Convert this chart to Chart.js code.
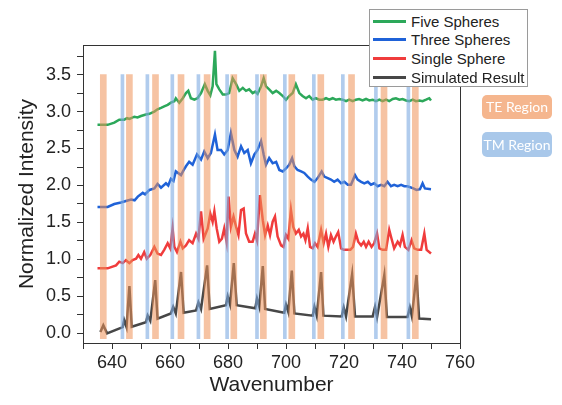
<!DOCTYPE html>
<html>
<head>
<meta charset="utf-8">
<script src="https://cdn.jsdelivr.net/npm/chart.js@4/dist/chart.umd.min.js"></script>
<style>
  body { margin: 0; background: #fff; }
  #wrap { position: relative; width: 562px; height: 405px; font-family: "Liberation Sans", Arial, sans-serif; }
  #legend { position: absolute; left: 369px; top: 9px; width: 157px; height: 76px; border: 1px solid #9a9a9a; background: #fff; }
  .row { position: absolute; left: 0; height: 19px; width: 157px; font-size: 15px; color: #222; line-height: 19px; }
  .row span.ln { position: absolute; left: 3px; top: 8px; width: 33px; height: 3px; }
  .row span.tx { position: absolute; left: 41px; top: 0; white-space: nowrap; }
  .region { position: absolute; left: 482px; width: 70px; border-radius: 5px; color: #fff; font-family: Lato, "Open Sans", sans-serif; font-size: 14px; text-align: center; }
</style>
</head>
<body>
<div id="wrap">
  <canvas id="spectraChart" width="562" height="405"></canvas>
  <div id="legend"></div>
  <div class="region" style="top:95px;height:24px;line-height:24px;background:#f5b68e;">TE Region</div>
  <div class="region" style="top:132px;height:25px;line-height:25px;background:#a9c8ea;">TM Region</div>
</div>
<script>
// measured spectra, [wavenumber, normalized intensity]
var fiveSpheres = [[635,2.82],[638.5,2.82],[640.8,2.85],[642.5,2.89],[644.2,2.89],[645.2,2.91],[646,2.9],[647.7,2.93],[648.8,2.92],[650,2.94],[651.7,2.96],[652.9,2.97],[654.6,3.0],[655.7,3.03],[656.9,3.05],[658,3.07],[659.2,3.09],[660.3,3.12],[661.5,3.14],[662,3.18],[663.2,3.12],[664.4,3.18],[665.5,3.25],[666.3,3.28],[667.2,3.18],[668.4,3.16],[669.5,3.18],[670.7,3.25],[672,3.37],[673,3.28],[673.9,3.22],[674.7,3.34],[675.5,3.82],[676,3.37],[677,3.3],[678.2,3.23],[679.3,3.23],[680.4,3.25],[681.6,3.45],[682.8,3.37],[683.9,3.28],[685.1,3.32],[686.2,3.28],[687.3,3.3],[688.5,3.25],[689.4,3.27],[690.2,3.24],[691.4,3.34],[692.3,3.45],[693.1,3.34],[694.2,3.3],[695.4,3.25],[696.6,3.28],[697.7,3.25],[698.9,3.21],[700,3.16],[701.1,3.21],[702.3,3.25],[703.4,3.37],[704.6,3.25],[705.7,3.21],[706.9,3.18],[708,3.21],[709.2,3.16],[710.3,3.18],[711.5,3.16],[712.6,3.16],[713.8,3.18],[714.9,3.16],[716.1,3.18],[717.2,3.16],[718.4,3.17],[719.5,3.16],[720.7,3.14],[721.8,3.16],[723,3.14],[724.1,3.16],[725.2,3.17],[726.4,3.15],[727.6,3.17],[728.7,3.15],[729.9,3.16],[731,3.14],[732.2,3.16],[733.3,3.14],[734.5,3.16],[735.6,3.14],[736.8,3.17],[737.9,3.18],[739.1,3.16],[740.2,3.17],[741.4,3.15],[742.5,3.14],[743.7,3.16],[744.8,3.14],[746,3.15],[747.1,3.14],[748.3,3.16],[749.4,3.18],[750,3.15]];

var threeSpheres = [[635,1.71],[638.5,1.71],[640.8,1.75],[643.1,1.77],[644.8,1.79],[646.6,1.81],[647.8,1.8],[648.9,1.85],[650.6,1.9],[651.4,1.88],[652.9,1.94],[654.6,1.96],[655.7,2.02],[656.9,1.97],[658.6,2.03],[659.4,2.0],[660.3,2.09],[661.2,2.06],[662,2.19],[663.8,2.14],[664.6,2.2],[665.5,2.26],[666.6,2.32],[667.8,2.28],[669.3,2.42],[670.7,2.35],[671.8,2.46],[673,2.37],[674.1,2.44],[675.5,2.69],[676.4,2.48],[677.6,2.48],[678.7,2.42],[679.9,2.48],[681,2.71],[682.2,2.48],[683.3,2.39],[684.5,2.53],[685.6,2.44],[686.8,2.48],[687.9,2.3],[689.1,2.42],[690.2,2.48],[691.4,2.6],[692.3,2.42],[693.1,2.28],[694.2,2.37],[695.4,2.3],[696.6,2.32],[697.7,2.21],[698.9,2.19],[700,2.23],[701.1,2.28],[702.1,2.37],[702.9,2.26],[704,2.21],[705.2,2.19],[706.3,2.17],[707.5,2.12],[708.6,2.08],[709.8,2.05],[710.9,2.1],[712.3,2.19],[713.2,2.12],[714.4,2.1],[715.5,2.08],[716.6,2.05],[717.8,2.08],[719,2.03],[720.1,2.05],[721.3,2.01],[722.4,2.01],[723.8,2.14],[724.7,2.08],[725.9,2.05],[727,2.03],[728.2,2.05],[729.3,2.01],[730.4,2.03],[731.6,1.99],[732.8,2.01],[733.9,1.99],[735,2.05],[736.2,1.99],[737.3,2.01],[738.5,1.99],[739.7,2.01],[740.8,1.99],[741.9,1.99],[743.9,1.96],[745,1.94],[746.2,1.95],[747.1,2.03],[747.9,1.96],[750,1.95]];

var singleSphere = [[635,0.88],[638.5,0.88],[641.4,0.92],[642.5,0.97],[643.7,0.95],[644.8,0.99],[646,0.95],[647.1,0.99],[648.3,1.01],[649.1,1.06],[650,1.01],[651.1,1.1],[652,1.01],[653.2,1.06],[654.6,1.17],[655.7,1.08],[656.9,1.06],[658,1.13],[659.2,1.22],[660.1,1.15],[660.9,1.42],[661.5,1.17],[662.4,1.1],[663.6,1.24],[664.4,1.15],[665.5,1.19],[666.6,1.26],[667.8,1.22],[669,1.35],[669.8,1.28],[670.7,1.65],[671.6,1.28],[673,1.42],[673.9,1.62],[674.7,1.51],[675.3,1.65],[676.1,1.42],[677,1.24],[677.9,1.28],[678.7,1.42],[679.5,1.24],[680.2,1.85],[681,1.44],[681.9,1.58],[682.8,1.44],[683.6,1.33],[684.5,1.67],[685.4,1.69],[686.2,1.35],[687.3,1.24],[688.5,1.24],[689.3,1.35],[690,1.26],[691,1.87],[692,1.53],[692.8,1.33],[693.7,1.46],[694.5,1.33],[695.4,1.51],[696.2,1.58],[697.1,1.31],[698.3,1.19],[699.1,1.17],[700,1.33],[700.8,1.28],[701.7,1.67],[702.5,1.44],[703.4,1.35],[704.4,1.4],[705.2,1.31],[706,1.35],[706.7,1.26],[707.5,1.42],[708.3,1.17],[709.2,1.15],[710,1.22],[710.9,1.17],[712.1,1.4],[713,1.22],[713.8,1.35],[714.6,1.17],[715.5,1.33],[716.4,1.24],[717.2,1.31],[718,1.37],[719,1.15],[719.9,1.13],[721.3,1.13],[722.2,1.13],[723.1,1.17],[724.1,1.35],[724.9,1.24],[725.9,1.19],[726.8,1.24],[727.6,1.17],[728.5,1.24],[729.5,1.17],[730.4,1.22],[731.4,1.35],[732.2,1.15],[733.3,1.13],[734.5,1.13],[735.6,1.4],[736.4,1.28],[737.3,1.15],[738.5,1.24],[739.3,1.19],[740.2,1.33],[741,1.17],[742.2,1.13],[743.3,1.26],[744.2,1.15],[745.4,1.13],[746.6,1.13],[747.7,1.35],[748.5,1.13],[750,1.08]];

var simulated = [[636,0.02],[637,0.11],[638.3,0.0],[643.7,0.085],[644.2,0.18],[645,0.085],[646,0.64],[646.8,0.09],[651.7,0.15],[652.3,0.24],[653.2,0.17],[654.9,0.72],[655.7,0.2],[660.3,0.27],[661.1,0.36],[662,0.27],[663.8,0.83],[664.7,0.28],[669,0.31],[669.8,0.42],[670.7,0.33],[672.8,0.92],[673.7,0.33],[679.3,0.38],[679.9,0.5],[680.7,0.39],[682,0.95],[683,0.38],[689.4,0.34],[690,0.47],[690.8,0.36],[692,0.91],[692.8,0.33],[699.4,0.28],[700,0.39],[700.8,0.29],[702,0.85],[702.9,0.27],[709.2,0.24],[709.8,0.36],[710.6,0.24],[712.1,0.83],[712.9,0.24],[719.2,0.23],[719.9,0.35],[720.7,0.23],[722.8,0.8],[723.8,0.23],[729.9,0.23],[730.7,0.36],[731.4,0.22],[733.9,0.79],[734.8,0.22],[741.9,0.22],[742.7,0.35],[743.4,0.23],[745,0.79],[745.9,0.2],[750,0.19]];

// mode positions (wavenumber)
var teModes = [637, 646, 655, 663.8, 672.8, 682, 692.2, 702, 712, 722.6, 733.8, 744.6];
var tmModes = [643.6, 652.2, 660.8, 669.8, 679.7, 690, 699.6, 709.6, 719.6, 731, 742.2];
var bandRange = [-0.07, 3.5];

var seriesNames = ["Five Spheres", "Three Spheres", "Single Sphere", "Simulated Result"];
var seriesData = [fiveSpheres, threeSpheres, singleSphere, simulated];
var seriesColors = ["#2ca85a", "#1f62d8", "#f03c3c", "#474747"];

var xTicks = [640, 660, 680, 700, 720, 740, 760];

function toPoints(arr) {
  return arr.map(function (p) { return { x: p[0], y: p[1] }; });
}
function toBands(arr) {
  return arr.map(function (w) { return { x: w, y: bandRange.slice() }; });
}

var datasets = [];
datasets.push({
  type: 'bar', label: 'TE', data: toBands(teModes), order: 0,
  backgroundColor: 'rgba(238,145,88,0.55)', barThickness: 6, grouped: false
});
datasets.push({
  type: 'bar', label: 'TM', data: toBands(tmModes), order: 0,
  backgroundColor: 'rgba(125,170,225,0.6)', barThickness: 3, grouped: false
});
seriesNames.forEach(function (name, i) {
  datasets.push({
    type: 'line', label: name, data: toPoints(seriesData[i]), order: 1,
    borderColor: seriesColors[i], borderWidth: 2.5, pointRadius: 0, tension: 0, fill: false
  });
});

// html legend
var legend = document.getElementById('legend');
seriesNames.forEach(function (name, i) {
  var row = document.createElement('div');
  row.className = 'row';
  row.style.top = (1.5 + i * 18.7) + 'px';
  row.innerHTML = '<span class="ln" style="background:' + seriesColors[i] + '"></span><span class="tx">' + name + '</span>';
  legend.appendChild(row);
});

var axisColor = '#333';
var tickFont = { family: '"Liberation Sans", Arial, sans-serif', size: 18 };
var titleFont = { family: '"Liberation Sans", Arial, sans-serif', size: 21 };

var ctx = document.getElementById('spectraChart');
new Chart(ctx, {
  type: 'line',
  data: { datasets: datasets },
  options: {
    responsive: false,
    animation: false,
    layout: { padding: { left: 0, top: 45, right: 102, bottom: 0 } },
    plugins: { legend: { display: false }, tooltip: { enabled: false } },
    scales: {
      x: {
        type: 'linear', position: 'bottom', min: 630, max: 760, offset: false,
        afterFit: function (s) { s.height = 62; },
        border: { color: axisColor, width: 1 },
        grid: { drawOnChartArea: false, tickLength: 6, color: axisColor, offset: false },
        ticks: {
          stepSize: 10, autoSkip: false, maxRotation: 0, padding: 3, color: '#222', font: tickFont,
          callback: function (v) { return xTicks.indexOf(v) >= 0 ? String(v) : ''; }
        },
        title: { display: true, text: 'Wavenumber', color: '#222', font: titleFont, padding: { top: 0, bottom: 7 } }
      },
      y: {
        type: 'linear', position: 'left', min: -0.13, max: 3.9,
        afterFit: function (s) { s.width = 83; },
        border: { color: axisColor, width: 1 },
        grid: { drawOnChartArea: false, tickLength: 6, color: axisColor },
        ticks: {
          stepSize: 0.25, includeBounds: false, autoSkip: false, padding: 6, color: '#222', font: tickFont,
          callback: function (v) { return Math.abs(v * 2 - Math.round(v * 2)) < 1e-6 ? v.toFixed(1) : ''; }
        },
        title: { display: true, text: 'Normalized Intensity', color: '#222', font: titleFont, padding: { top: 15, bottom: 0 } }
      },
      xTop: {
        type: 'linear', position: 'top', min: 630, max: 760,
        afterFit: function (s) { s.height = 0; },
        border: { color: axisColor, width: 1 },
        grid: { drawOnChartArea: false, drawTicks: false },
        ticks: { display: false }
      },
      yRight: {
        type: 'linear', position: 'right', min: -0.13, max: 3.9,
        afterFit: function (s) { s.width = 0; },
        border: { color: axisColor, width: 1 },
        grid: { drawOnChartArea: false, drawTicks: false },
        ticks: { display: false }
      }
    }
  }
});
</script>
</body>
</html>
